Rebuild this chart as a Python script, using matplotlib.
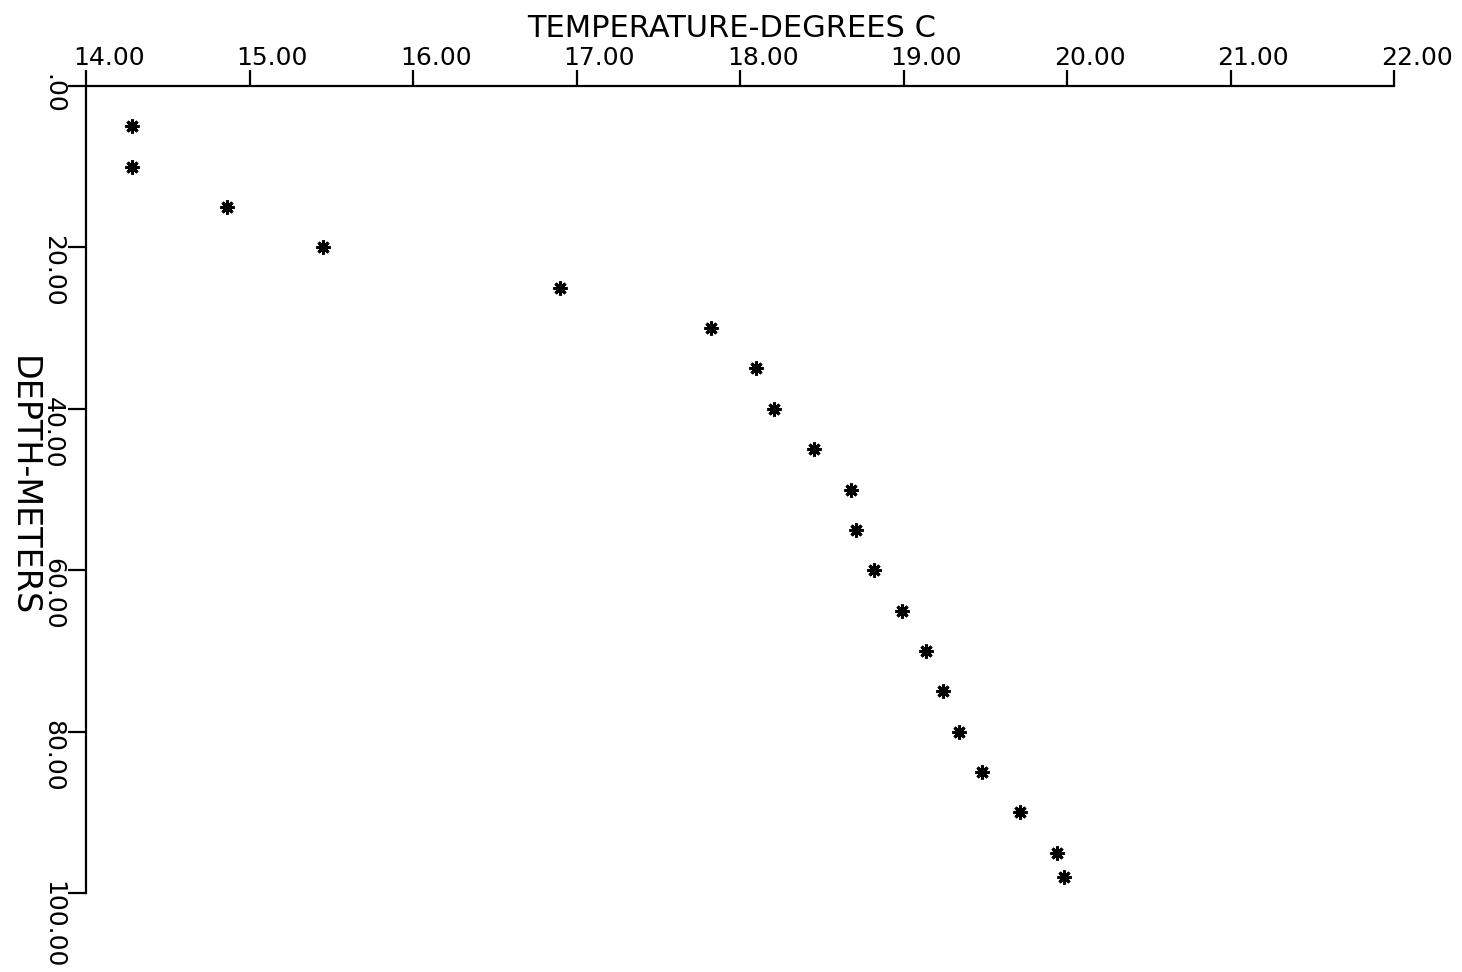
import matplotlib.pyplot as plt

# temperature profile
temperature = [14.28, 14.28, 14.86, 15.45, 16.90, 17.82, 18.10, 18.21, 18.45, 18.68,
               18.71, 18.82, 18.99, 19.14, 19.24, 19.34, 19.48, 19.71, 19.94, 19.98]
depth = [5, 10, 15, 20, 25, 30, 35, 40, 45, 50,
         55, 60, 65, 70, 75, 80, 85, 90, 95, 98]

x_ticks = [14, 15, 16, 17, 18, 19, 20, 21, 22]
x_labels = ['14.00', '15.00', '16.00', '17.00', '18.00', '19.00', '20.00', '21.00', '22.00']
y_ticks = [0, 20, 40, 60, 80, 100]
y_labels = ['.00', '20.00', '40.00', '60.00', '80.00', '100.00']

plt.rcParams['font.family'] = 'DejaVu Sans'

fig = plt.figure(figsize=(14.62, 9.72), dpi=100)
ax = fig.add_axes([86 / 1462, 1 - 893 / 972, (1394 - 86) / 1462, (893 - 86) / 972])

ax.plot(temperature, depth, linestyle='none', marker=(8, 2, 0), markersize=10,
        markeredgewidth=2.2, color='black')

ax.set_xlim(14, 22)
ax.set_ylim(100, 0)

for s in ['right', 'bottom']:
    ax.spines[s].set_visible(False)
for s in ['top', 'left']:
    ax.spines[s].set_linewidth(1.6)

ax.xaxis.tick_top()
ax.set_xticks(x_ticks)
ax.set_yticks(y_ticks)
ax.set_xticklabels([])
ax.set_yticklabels([])
ax.tick_params(axis='x', direction='out', length=11.5, width=1.6)
ax.tick_params(axis='y', direction='out', length=13, width=1.6)

px = 0.72  # points per pixel at dpi 100
for t, lab in zip(x_ticks, x_labels):
    ax.annotate(lab, xy=(t, 1), xycoords=('data', 'axes fraction'),
                xytext=(-13 * px, 21 * px), textcoords='offset points',
                ha='left', va='baseline', fontsize=18)
for d, lab in zip(y_ticks, y_labels):
    ax.annotate(lab, xy=(0, d), xycoords=('axes fraction', 'data'),
                xytext=(-33 * px, 12 * px), textcoords='offset points',
                ha='center', va='top', rotation=270, fontsize=18)

fig.text(732 / 1462, 1 - 37 / 972, 'TEMPERATURE-DEGREES C', ha='center', va='baseline', fontsize=22)
fig.text(23 / 1462, 1 - 486 / 972, 'DEPTH-METERS', ha='center', va='center', rotation=270, fontsize=24)

fig.savefig('out.png', dpi=100)
